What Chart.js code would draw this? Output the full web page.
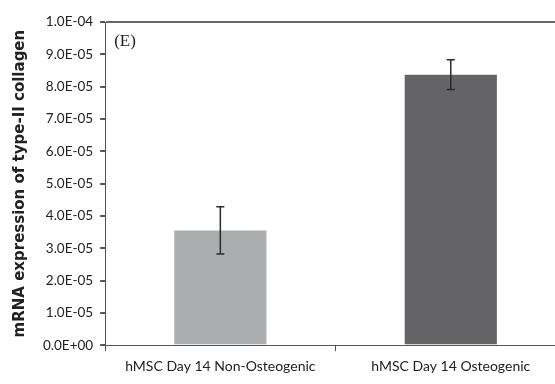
<!DOCTYPE html>
<html>
<head>
<meta charset="utf-8">
<script src="https://cdn.jsdelivr.net/npm/chart.js@4.4.1/dist/chart.umd.min.js"></script>
<style>
    html, body { margin: 0; padding: 0; background: #fff; overflow: hidden; }
    .chart-container { position: relative; width: 566px; height: 384px; }
</style>
</head>
<body>
<div class="chart-container"><canvas id="collagenChart"></canvas></div>
<script>
// Data
const groups = ['hMSC Day 14 Non-Osteogenic', 'hMSC Day 14 Osteogenic'];
const expression = [3.55e-5, 8.37e-5];
const errors = [0.73e-5, 0.46e-5];
const barColors = ['#abadaf', '#646467'];

// Simple error bar drawing
const errorBars = {
    id: 'errorBars',
    afterDatasetsDraw(chart) {
        const c = chart.ctx;
        const meta = chart.getDatasetMeta(0);
        const y = chart.scales.y;
        c.save();
        c.strokeStyle = '#2a2a2a';
        c.lineWidth = 1.5;
        meta.data.forEach((bar, i) => {
            const top = y.getPixelForValue(expression[i] + errors[i]);
            const bottom = y.getPixelForValue(expression[i] - errors[i]);
            c.beginPath();
            c.moveTo(bar.x, top);
            c.lineTo(bar.x, bottom);
            c.moveTo(bar.x - 4, top);
            c.lineTo(bar.x + 4, top);
            c.moveTo(bar.x - 4, bottom);
            c.lineTo(bar.x + 4, bottom);
            c.stroke();
        });
        c.restore();
    }
};

// Panel letter in the top-left corner
const panelLabel = {
    id: 'panelLabel',
    afterDraw(chart) {
        const c = chart.ctx;
        const area = chart.chartArea;
        c.save();
        c.font = '17px "Liberation Serif"';
        c.fillStyle = '#222';
        c.textBaseline = 'top';
        c.fillText('(E)', area.left + 9, area.top + 11);
        c.restore();
    }
};

const ctx = document.getElementById('collagenChart').getContext('2d');
const collagenChart = new Chart(ctx, {
    type: 'bar',
    data: {
        labels: groups,
        datasets: [{
            data: expression,
            backgroundColor: barColors,
            borderWidth: 0,
            categoryPercentage: 1,
            barPercentage: 0.4
        }]
    },
    options: {
        responsive: true,
        maintainAspectRatio: false,
        animation: false,
        layout: { padding: { top: 22, left: 11, right: 0, bottom: 2 } },
        plugins: {
            legend: { display: false },
            tooltip: { enabled: false }
        },
        scales: {
            x: {
                border: { display: true, color: '#555', width: 1 },
                grid: {
                    drawOnChartArea: false,
                    tickLength: 6,
                    tickColor: '#555'
                },
                ticks: {
                    color: '#222',
                    padding: 7,
                    font: { family: 'Lato', size: 14 }
                }
            },
            y: {
                min: 0,
                max: 1e-4,
                border: { display: true, color: '#555', width: 1 },
                grid: {
                    color: (c) => c.tick && c.tick.value >= 1e-4 ? '#666' : 'rgba(0,0,0,0)',
                    lineWidth: 2,
                    tickColor: '#555',
                    tickLength: 5
                },
                ticks: {
                    stepSize: 1e-5,
                    color: '#222',
                    padding: 7,
                    font: { family: 'Lato', size: 13.5 },
                    callback: (v) => {
                        const parts = Number(v).toExponential(1).toUpperCase().split('E');
                        const exp = parseInt(parts[1], 10);
                        const sign = exp < 0 ? '-' : '+';
                        return parts[0] + 'E' + sign + String(Math.abs(exp)).padStart(2, '0');
                    }
                },
                title: {
                    display: true,
                    text: 'mRNA expression of type-II collagen',
                    color: '#222',
                    padding: { top: 0, bottom: 7 },
                    font: { family: 'DejaVu Sans', size: 15, weight: 'bold' }
                }
            }
        }
    },
    plugins: [errorBars, panelLabel]
});
</script>
</body>
</html>
